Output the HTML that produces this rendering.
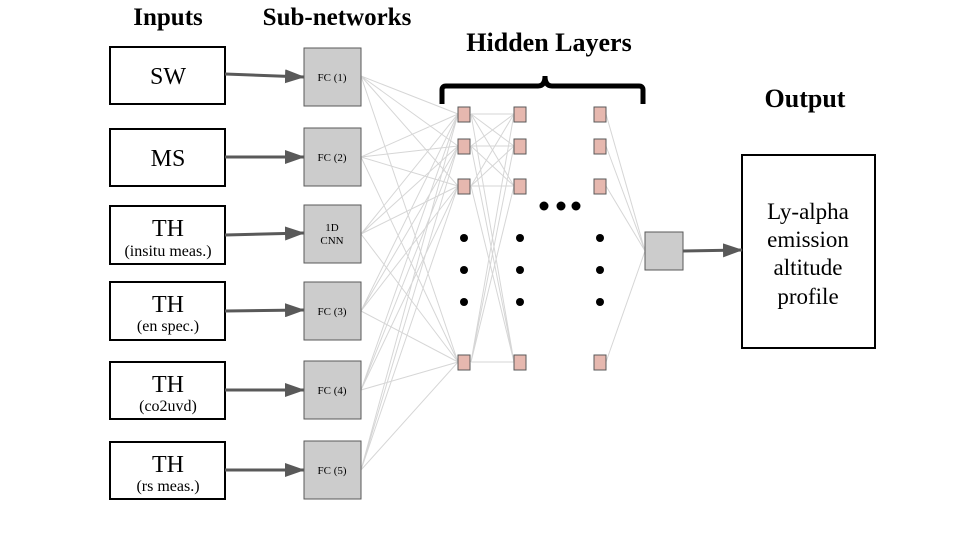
<!DOCTYPE html>
<html><head><style>
body{margin:0;background:#fff;}
svg text{font-family:"Liberation Serif",serif;}
</style></head><body>
<svg width="960" height="540" xmlns="http://www.w3.org/2000/svg">
<defs><marker id="a" markerWidth="20" markerHeight="14" refX="19" refY="7" orient="auto" markerUnits="userSpaceOnUse"><path d="M0,0 L20,7 L0,14 z" fill="#595959"/></marker></defs>
<g stroke="#d6d6d6" stroke-width="1" fill="none">
<path d="M361 76L458 114M361 76L458 146M361 76L458 186M361 76L458 362
M361 157L458 114M361 157L458 146M361 157L458 186M361 157L458 362
M361 234L458 114M361 234L458 146M361 234L458 186M361 234L458 362
M361 311L458 114M361 311L458 146M361 311L458 186M361 311L458 362
M361 390L458 114M361 390L458 146M361 390L458 186M361 390L458 362
M361 470L458 114M361 470L458 146M361 470L458 186M361 470L458 362
M471 114L514 114M471 114L514 146M471 114L514 186M471 114L514 362
M471 146L514 114M471 146L514 146M471 146L514 186M471 146L514 362
M471 186L514 114M471 186L514 146M471 186L514 186M471 186L514 362
M471 362L514 114M471 362L514 146M471 362L514 186M471 362L514 362
M606 114L645 251M606 146L645 251M606 186L645 251M606 362L645 251"/>
</g>
<text x="168" y="25" font-size="25" font-weight="bold" text-anchor="middle">Inputs</text>
<text x="337" y="25" font-size="25" font-weight="bold" text-anchor="middle">Sub-networks</text>
<text x="549" y="51" font-size="26" font-weight="bold" text-anchor="middle">Hidden Layers</text>
<text x="805" y="107" font-size="26" font-weight="bold" text-anchor="middle">Output</text>
<path d="M442 104V90Q442 86 446 86H538Q545 86 545 76Q545 86 552 86H639Q643 86 643 90V104" fill="none" stroke="#000" stroke-width="5"/>
<g fill="#fff" stroke="#000" stroke-width="2">
<rect x="110" y="47" width="115" height="57"/><rect x="110" y="129" width="115" height="57"/>
<rect x="110" y="206" width="115" height="58"/><rect x="110" y="282" width="115" height="58"/>
<rect x="110" y="362" width="115" height="57"/><rect x="110" y="442" width="115" height="57"/>
<rect x="742" y="155" width="133" height="193"/>
</g>
<g font-size="24" text-anchor="middle">
<text x="168" y="84">SW</text><text x="168" y="166">MS</text>
<text x="168" y="236">TH</text><text x="168" y="312">TH</text>
<text x="168" y="392">TH</text><text x="168" y="472">TH</text>
</g>
<g font-size="16" text-anchor="middle">
<text x="168" y="256">(insitu meas.)</text><text x="168" y="331">(en spec.)</text>
<text x="168" y="411">(co2uvd)</text><text x="168" y="491">(rs meas.)</text>
</g>
<g font-size="23" text-anchor="middle">
<text x="808" y="219">Ly-alpha</text><text x="808" y="247">emission</text>
<text x="808" y="275">altitude</text><text x="808" y="304">profile</text>
</g>
<g stroke="#595959" stroke-width="3" marker-end="url(#a)">
<line x1="225" y1="74" x2="304" y2="77"/><line x1="225" y1="157" x2="304" y2="157"/>
<line x1="225" y1="235" x2="304" y2="233"/><line x1="225" y1="311" x2="304" y2="310"/>
<line x1="225" y1="390" x2="304" y2="390"/><line x1="225" y1="470" x2="304" y2="470"/>
<line x1="683" y1="251" x2="742" y2="250"/>
</g>
<g fill="#cccccc" stroke="#595959" stroke-width="1">
<rect x="304" y="48" width="57" height="58"/><rect x="304" y="128" width="57" height="58"/>
<rect x="304" y="205" width="57" height="58"/><rect x="304" y="282" width="57" height="58"/>
<rect x="304" y="361" width="57" height="58"/><rect x="304" y="441" width="57" height="58"/>
<rect x="645" y="232" width="38" height="38"/>
</g>
<g font-size="11" text-anchor="middle">
<text x="332" y="81">FC (1)</text><text x="332" y="161">FC (2)</text>
<text x="332" y="231">1D</text><text x="332" y="244">CNN</text>
<text x="332" y="315">FC (3)</text><text x="332" y="394">FC (4)</text><text x="332" y="474">FC (5)</text>
</g>
<g fill="#e6b8af" stroke="#595959" stroke-width="1">
<rect x="458" y="107" width="12" height="15"/><rect x="458" y="139" width="12" height="15"/><rect x="458" y="179" width="12" height="15"/><rect x="458" y="355" width="12" height="15"/>
<rect x="514" y="107" width="12" height="15"/><rect x="514" y="139" width="12" height="15"/><rect x="514" y="179" width="12" height="15"/><rect x="514" y="355" width="12" height="15"/>
<rect x="594" y="107" width="12" height="15"/><rect x="594" y="139" width="12" height="15"/><rect x="594" y="179" width="12" height="15"/><rect x="594" y="355" width="12" height="15"/>
</g>
<g fill="#000">
<circle cx="464" cy="238" r="4"/><circle cx="464" cy="270" r="4"/><circle cx="464" cy="302" r="4"/>
<circle cx="520" cy="238" r="4"/><circle cx="520" cy="270" r="4"/><circle cx="520" cy="302" r="4"/>
<circle cx="600" cy="238" r="4"/><circle cx="600" cy="270" r="4"/><circle cx="600" cy="302" r="4"/>
<circle cx="544" cy="206" r="4.5"/><circle cx="561" cy="206" r="4.5"/><circle cx="576" cy="206" r="4.5"/>
</g>
</svg>
</body></html>
